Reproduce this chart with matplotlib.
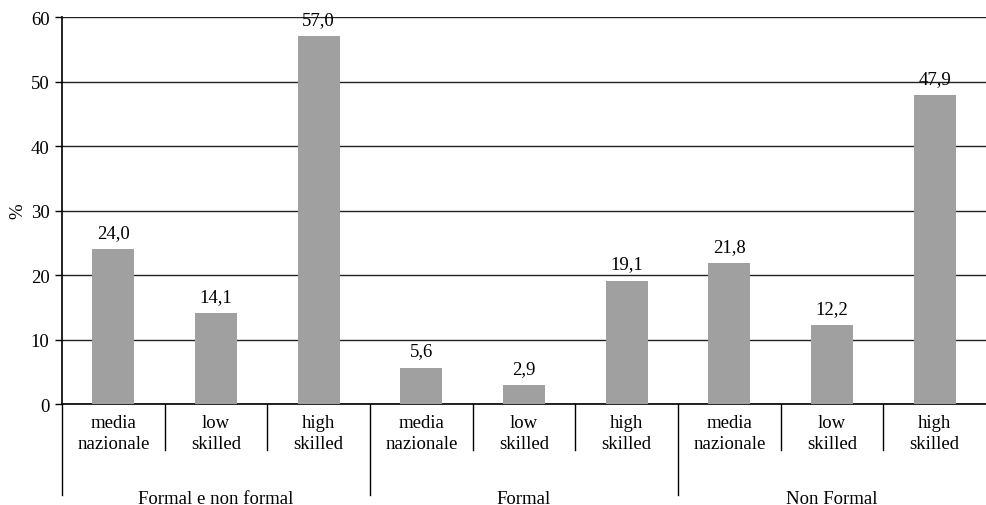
import matplotlib
matplotlib.use("Agg")
import matplotlib.pyplot as plt
from matplotlib.transforms import blended_transform_factory

categories = ["media\nnazionale", "low\nskilled", "high\nskilled",
              "media\nnazionale", "low\nskilled", "high\nskilled",
              "media\nnazionale", "low\nskilled", "high\nskilled"]
values = [24.0, 14.1, 57.0, 5.6, 2.9, 19.1, 21.8, 12.2, 47.9]
groups = ["Formal e non formal", "Formal", "Non Formal"]
group_size = 3
yticks = [0, 10, 20, 30, 40, 50, 60]

plt.rcParams["font.family"] = ["Liberation Serif", "DejaVu Serif"]
fs = 13.5

fig = plt.figure(figsize=(9.86, 5.06), dpi=100)
ax = fig.add_axes([0.0629, 0.1996, 0.9371, 0.7648])

x = list(range(len(values)))
ax.bar(x, values, width=0.41, color="#a0a0a0", zorder=3)
for xi, v in zip(x, values):
    ax.text(xi, v + 1.3, f"{v:.1f}".replace(".", ","), ha="center",
            va="bottom", fontsize=fs, zorder=4)

ax.set_xlim(-0.5, len(values) - 0.5)
ax.set_ylim(0, 60)
ax.set_yticks(yticks)
ax.set_yticklabels([str(t) for t in yticks], fontsize=fs)
ax.tick_params(axis="y", length=5, width=1, pad=4)
ax.set_ylabel("%", fontsize=fs, labelpad=3)
ax.yaxis.grid(True, color="#222222", linewidth=1.0, zorder=0)

for side in ["top", "right"]:
    ax.spines[side].set_visible(False)
ax.spines["left"].set_linewidth(1.2)
ax.spines["bottom"].set_linewidth(1.2)
ax.set_xticks([])

trans = blended_transform_factory(ax.transData, ax.transAxes)
# category labels and separators
for xi, lab in zip(x, categories):
    ax.text(xi, -0.026, lab, transform=trans, ha="center", va="top",
            fontsize=fs, linespacing=1.27)
for i in range(len(values)):
    edge = i - 0.5
    if i % group_size == 0:
        ax.plot([edge, edge], [0, -0.235], transform=trans, color="black",
                linewidth=1.0, clip_on=False)
    else:
        ax.plot([edge, edge], [0, -0.119], transform=trans, color="black",
                linewidth=1.0, clip_on=False)
# group labels
for gi, g in enumerate(groups):
    center = gi * group_size + (group_size - 1) / 2
    ax.text(center, -0.222, g, transform=trans, ha="center", va="top",
            fontsize=fs)

fig.savefig("out.png", dpi=100)
